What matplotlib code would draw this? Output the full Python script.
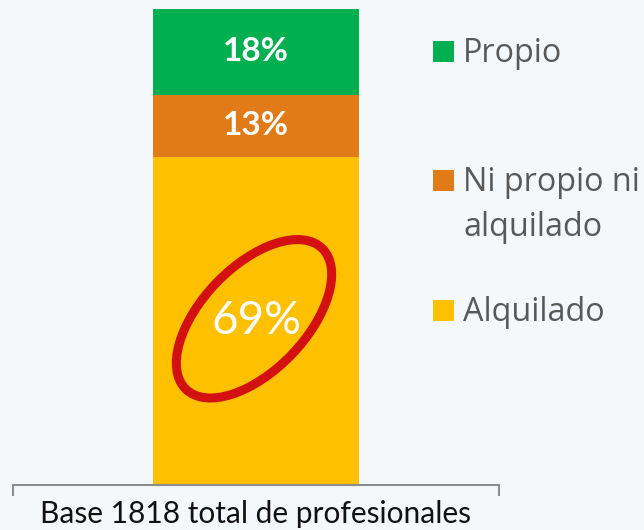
import matplotlib
matplotlib.use("Agg")
import matplotlib.pyplot as plt
from matplotlib.patches import Rectangle, Ellipse
from matplotlib.transforms import ScaledTranslation

# Datos
categorias = ["Alquilado", "Ni propio ni\nalquilado", "Propio"]
valores = [69, 13, 18]
colores = ["#FFC000", "#E07B17", "#00AF50"]
base_texto = "Base 1818 total de profesionales"

W, H = 644, 530
fig = plt.figure(figsize=(W / 100, H / 100), dpi=100, facecolor="#f5f8fb")

# eje: el borde inferior hace de corchete
ax = fig.add_axes([13 / W, 45 / H, 486 / W, 476 / H])
ax.patch.set_alpha(0)
ax.set_xlim(-0.5, 0.5)
ax.set_ylim(0, 100)

# barra apilada
abajo = 0
for cat, v, c in zip(categorias, valores, colores):
    ax.bar(0, v, width=0.422, bottom=abajo, color=c, linewidth=0)
    centro = abajo + v / 2
    if v > 50:
        ax.text(0, centro, f"{v}%", ha="center", va="center", color="white",
                fontsize=33, family="Lato")
    else:
        ax.text(0, centro, f"{v}%", ha="center", va="center", color="white",
                fontsize=24, fontweight="bold", family="Lato")
    abajo += v

# ovalo rojo alrededor del mayor valor
trans = fig.dpi_scale_trans + ScaledTranslation(0, valores[0] / 2, ax.transData)
ax.add_patch(Ellipse((-0.02, 0.02), width=1.96, height=1.04, angle=46,
                     transform=trans, fill=False, edgecolor="#D41111", linewidth=6.5))

for s in ["top", "left", "right"]:
    ax.spines[s].set_visible(False)
ax.spines["bottom"].set_color("#8c8c8c")
ax.spines["bottom"].set_linewidth(1.5)
ax.set_yticks([])
ax.set_xticks([-0.5, 0.5])
ax.tick_params(axis="x", length=8, width=1.5, color="#8c8c8c", labelbottom=False)
ax.set_xlabel(base_texto, fontsize=21.5, family="Lato", color="#111111", labelpad=3)

# leyenda manual (filas con distinta separacion)
leyenda_top = [300, 170, 41]  # px desde arriba
for cat, c, yt in zip(categorias, colores, leyenda_top):
    fig.add_artist(Rectangle((433 / W, 1 - (yt + 21) / H), 21 / W, 21 / H,
                             transform=fig.transFigure, color=c, linewidth=0))
    fig.text(463 / W, 1 - (yt - 4) / H, cat, ha="left", va="top", fontsize=23.3,
             family="Open Sans", color="#595959", linespacing=1.5)

fig.savefig("out.png", dpi=100, facecolor=fig.get_facecolor())
